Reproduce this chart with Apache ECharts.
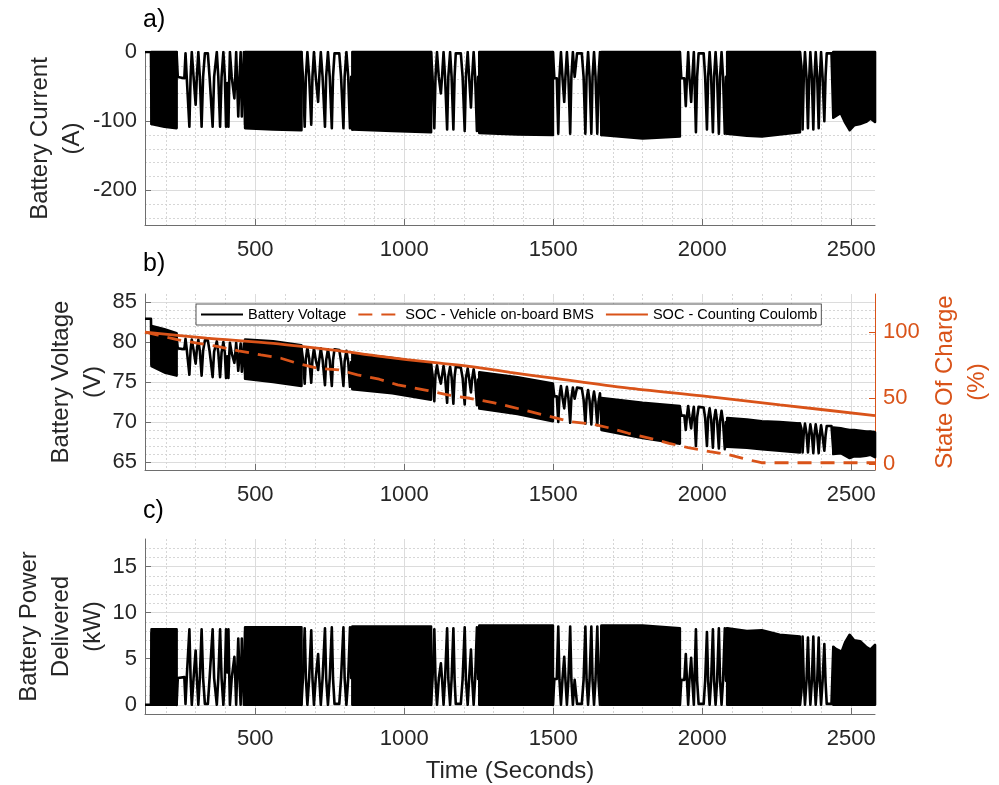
<!DOCTYPE html>
<html><head><meta charset="utf-8">
<script src="https://cdn.jsdelivr.net/npm/echarts@6/dist/echarts.min.js"></script>
<style>html,body{margin:0;padding:0;background:#fff}#c{width:999px;height:785px}</style>
</head><body><div id="c"></div>
<script>
// ---------- axis ranges ----------
const timeRange = [130, 2580];
const currentRange = [-250, 0];
const voltageRange = [64, 86];
const socRange = [-4.3, 128.9];
const powerRange = [-1, 18];

// ---------- sparse (visible oscillation) parts of the signals ----------
const lineTime = [
  130,150,152,
  236,240,262,266,270,279,283,287,293,300,304,309,314,320,325,331,341,347,357,362,371,376,382,387,393,398,402,406,410,413,415,421,430,433,436,443,448,451,455,459,462,466,
  655,660,666,670,675,681,688,692,697,703,711,715,720,726,734,738,744,750,757,761,766,782,788,796,800,806,812,818,822,826,
  1090,1095,1101,1105,1110,1116,1123,1127,1132,1137,1144,1148,1154,1159,1165,1169,1173,1190,1196,1203,1207,1213,1218,1224,1228,1233,1238,1244,1248,1252,
  1499,1504,1512,1517,1521,1526,1531,1537,1541,1546,1551,1557,1561,1566,1572,1580,1596,1602,1608,1612,1617,1622,1628,1632,1637,1642,1648,1652,1657,1662,
  1925,1930,1940,1945,1949,1953,1957,1963,1967,1972,1979,1983,1988,2005,2010,2016,2020,2025,2030,2036,2040,2045,2050,2056,2060,2065,2070,2076,2080,2084,
  2328,2333,2337,2341,2345,2350,2355,2359,2363,2368,2373,2377,2381,2386,2391,2395,2399,2404,2410,2414,2418,2434,2440,
  2580
];
const currentVals = [
  0,0,-104,
  0,-36,-38,-2,-36,-108,-36,0,-36,-76,-36,0,-36,-108,-36,-2,-2,-38,-108,-36,0,-36,-108,-36,0,-36,-108,-45,-108,-36,0,-36,-67,-36,0,-93,-30,0,-93,-36,0,-105,
  0,-36,-108,-36,0,-36,-105,-36,0,-36,-72,-36,0,-36,-108,-36,0,-36,-110,-36,-2,-2,-36,-110,-36,0,-36,-110,-36,-112,
  0,-36,-110,-36,0,-36,-60,-36,0,-36,-112,-36,0,-36,-112,-36,-2,-2,-36,-114,-36,0,-38,-80,-36,0,-36,-114,-36,-115,
  0,-38,-38,-118,-36,0,-36,-72,-36,0,-36,-118,-36,0,-36,-2,-2,-36,-118,-36,0,-36,-118,-36,0,-36,-118,-36,0,-120,
  0,-38,-38,-78,-36,0,-36,-72,-36,0,-116,-36,-2,-2,-36,-112,-36,0,-36,-116,-36,0,-36,-118,-36,0,-36,-118,-36,-118,
  0,-20,-112,-36,0,-36,-110,-40,0,-36,-112,-36,0,-36,-110,-36,0,-36,-100,-36,-2,-2,-93,
  -60
];
const voltageVals = [
  82.9,82.9,77.2,
  80.6,79.2,79.1,80.4,79.1,75.9,79.0,80.3,79.0,77.3,79.0,80.3,78.9,75.8,78.9,80.2,80.2,78.8,75.6,78.8,80.1,78.7,75.6,78.7,80.0,78.6,75.5,78.2,75.5,78.6,79.9,78.6,77.4,78.5,79.9,76.4,78.7,79.8,76.3,78.4,79.8,76.0,
  79.3,77.9,74.8,77.9,79.3,77.9,74.9,77.8,79.2,77.8,76.5,77.8,79.2,77.8,74.6,77.7,79.1,77.7,74.5,77.7,79.1,79.0,77.6,74.5,77.6,78.9,77.5,74.4,77.5,74.3,
  77.2,75.9,72.6,75.9,77.1,75.8,74.8,75.8,77.0,75.7,72.4,75.7,76.9,75.6,72.3,75.6,76.9,76.8,75.5,72.2,75.5,76.7,75.4,73.7,75.4,76.6,75.3,72.1,75.3,72.0,
  74.6,73.2,73.2,70.0,73.2,74.5,73.1,71.7,73.1,74.4,73.0,69.9,73.0,74.3,72.9,74.3,74.2,72.8,69.8,72.8,74.0,72.7,69.7,72.6,73.8,72.5,69.6,72.5,73.6,69.5,
  71.9,70.8,70.8,69.0,70.8,72.0,70.7,69.2,70.7,71.9,67.0,70.6,71.9,71.8,70.5,67.0,70.5,71.7,70.3,66.8,70.3,71.5,70.1,66.7,70.1,71.4,70.0,66.6,70.0,66.9,
  69.8,69.2,66.2,68.6,69.8,68.6,66.2,68.4,69.7,68.5,66.1,68.5,69.7,68.4,66.1,68.4,69.6,68.3,66.4,68.3,69.5,69.5,66.5,
  67.5
];
const powerVals = [
  0,0,7.8,
  0,2.9,3.0,0.1,2.9,8.2,2.9,0,2.9,5.9,2.9,0,2.9,8.2,2.9,0.1,0.1,3.0,8.2,2.9,0,2.9,8.2,2.9,0,2.9,8.2,3.5,8.2,2.9,0,2.9,5.2,2.9,0,7.2,2.3,0,7.2,2.8,0,8.0,
  0,2.9,8.3,2.9,0,2.9,8.1,2.9,0,2.9,5.5,2.9,0,2.9,8.3,2.9,0,2.9,8.4,2.9,0.1,0.1,2.9,8.4,2.9,0,2.9,8.4,2.9,8.4,
  0,2.8,8.2,2.8,0,2.8,4.5,2.8,0,2.8,8.3,2.8,0,2.8,8.3,2.8,0.1,0.1,2.8,8.4,2.8,0,2.9,6.0,2.8,0,2.8,8.4,2.8,8.4,
  0,2.8,2.8,8.5,2.7,0,2.7,5.2,2.7,0,2.7,8.5,2.7,0,2.7,0.1,0.1,2.7,8.5,2.7,0,2.7,8.5,2.7,0,2.7,8.5,2.7,0,8.5,
  0,2.7,2.7,5.5,2.6,0,2.6,5.1,2.6,0,8.2,2.6,0.1,0.1,2.6,7.9,2.6,0,2.6,8.2,2.6,0,2.6,8.3,2.6,0,2.6,8.3,2.6,8.3,
  0,1.4,7.4,2.5,0,2.5,7.3,2.8,0,2.5,7.4,2.5,0,2.5,7.3,2.5,0,2.5,6.6,2.5,0.1,0.1,6.2,
  4.0
];

// ---------- dense blocks (envelopes of the fast switching parts) ----------
const bandTime = [
  [152,195,236],
  [466,560,655],
  [826,960,1090],
  [1252,1380,1499],
  [1662,1800,1925],
  [2084,2150,2200,2260,2328],
  [2440,2465,2480,2495,2510,2530,2550,2565,2580]
];
const currentLow = [
  [-104,-108,-110],
  [-110,-112,-113],
  [-112,-114,-116],
  [-117,-119,-120],
  [-120,-125,-122],
  [-118,-121,-122,-119,-116],
  [-95,-88,-102,-113,-106,-104,-101,-96,-101]
];
const voltageHigh = [
  [82.0,81.6,81.1],
  [80.3,80.1,79.6],
  [78.6,78.0,77.3],
  [76.2,75.6,74.8],
  [73.0,72.4,72.0],
  [70.5,70.3,70.1,70.0,69.8],
  [69.3,69.2,69.1,69.0,69.0,68.9,68.8,68.8,68.7]
];
const voltageLow = [
  [77.0,76.2,75.8],
  [75.4,75.0,74.5],
  [74.1,73.6,72.8],
  [71.7,71.0,70.1],
  [69.0,68.0,67.3],
  [66.9,66.8,66.6,66.4,66.2],
  [66.0,66.1,65.8,65.5,65.7,65.7,65.8,65.9,65.6]
];
const powerHigh = [
  [8.2,8.2,8.2],
  [8.4,8.4,8.4],
  [8.5,8.5,8.5],
  [8.6,8.6,8.6],
  [8.6,8.6,8.3],
  [8.3,8.0,8.1,7.6,7.4],
  [6.3,5.5,6.8,7.6,7.0,6.9,6.3,6.0,6.5]
];

// ---------- state of charge ----------
const bmsTime = [130,170,242,305,376,444,519,586,648,709,781,843,916,978,1080,1146,1220,1298,1355,1491,1556,1629,1693,1752,1825,1889,1953,2026,2091,2149,2199,2580];
const bmsSoc  = [100,98,94.2,91.7,89.1,85.9,82.8,80.3,76,72.7,71.5,67.7,64.4,60.1,55.8,52.5,50,46.7,43.7,36.1,32.3,30.6,27.3,23.5,19.7,15.9,12.6,9.6,7.1,3.8,1.2,1.2];
const ccTime = [130,337,561,784,900,1008,1120,1232,1355,1500,1746,2000,2261,2580];
const ccSoc  = [100,95.5,91.5,85.8,82.3,79.3,76.6,73.8,69.6,65.2,57.8,51.8,45.0,36.9];

const seriesNames = ['Battery Voltage', 'SOC - Vehicle on-board BMS', 'SOC - Counting Coulomb'];
const panelLabels = ['a)', 'b)', 'c)'];

// ---------- build ----------
const FONT = "'Liberation Sans', Arial, Helvetica, sans-serif";
const ORANGE = '#D95319';
const TXT = '#262626';
const AXC = '#6e6e6e';
const LW = 2.6;
const n = Math.min(lineTime.length, currentVals.length, voltageVals.length, powerVals.length);
const pair = (ts, vs) => ts.slice(0, n).map((t, i) => [t, vs[i]]);
const zeroLevel = bandTime.map(ts => ts.map(() => 0));
const plain = v => String(v);

function bandRender(hiArr, loArr) {
  return function (params, api) {
    const i = params.dataIndex;
    const ts = bandTime[i];
    const pts = [];
    for (let k = 0; k < ts.length; k++) pts.push(api.coord([ts[k], hiArr[i][k]]));
    for (let k = ts.length - 1; k >= 0; k--) pts.push(api.coord([ts[k], loArr[i][k]]));
    return { type: 'polygon', shape: { points: pts },
      style: { fill: '#000', stroke: '#000', lineWidth: LW, lineJoin: 'round' } };
  };
}

const grids = [
  { left: 145, width: 730, top: 52, height: 173, outerBoundsMode: 'none' },
  { left: 145, width: 730, top: 294, height: 176, outerBoundsMode: 'none' },
  { left: 145, width: 730, top: 539, height: 175, outerBoundsMode: 'none' }
];

function xAxis(gi, withName) {
  const ax = {
    type: 'value', gridIndex: gi, min: timeRange[0], max: timeRange[1], splitNumber: 5,
    axisLine: { show: true, onZero: false, lineStyle: { color: AXC, width: 1 } },
    axisTick: { show: true, inside: true, length: 6, lineStyle: { color: AXC } },
    axisLabel: { show: true, showMinLabel: false, showMaxLabel: false, margin: 14, formatter: plain,
      color: TXT, fontSize: 22, fontFamily: FONT },
    splitLine: { show: true, showMinLine: false, showMaxLine: false, lineStyle: { color: '#dcdcdc', width: 1 } },
    minorTick: { show: false, splitNumber: 5 },
    minorSplitLine: { show: true, lineStyle: { color: '#d6d6d6', width: 1, type: [2, 2] } }
  };
  if (withName) {
    ax.name = 'Time (Seconds)';
    ax.nameLocation = 'middle';
    ax.nameGap = 45;
    ax.nameMoveOverlap = false;
    ax.nameTextStyle = { fontSize: 24, color: TXT, fontFamily: FONT };
  }
  return ax;
}

function yAxis(gi, range, splitNumber, name, gap, showMax) {
  return {
    type: 'value', gridIndex: gi, min: range[0], max: range[1], splitNumber: splitNumber,
    name: name, nameLocation: 'middle', nameRotate: 90, nameGap: gap, nameMoveOverlap: false,
    nameTextStyle: { fontSize: 24, lineHeight: 32, color: TXT, fontFamily: FONT, align: 'center' },
    axisLine: { show: true, onZero: false, lineStyle: { color: AXC, width: 1 } },
    axisTick: { show: true, inside: true, length: 6, lineStyle: { color: AXC } },
    axisLabel: { show: true, showMinLabel: false, showMaxLabel: showMax, formatter: plain,
      margin: 8, color: TXT, fontSize: 22, fontFamily: FONT },
    splitLine: { show: true, showMinLine: false, showMaxLine: false, lineStyle: { color: '#dcdcdc', width: 1 } },
    minorTick: { show: false, splitNumber: 5 },
    minorSplitLine: { show: true, lineStyle: { color: '#d6d6d6', width: 1, type: [2, 2] } }
  };
}

const yA = yAxis(0, currentRange, 3, 'Battery Current\n(A)', 57, true);
const yB = yAxis(1, voltageRange, 5, 'Battery Voltage\n(V)', 36, false);
const yC = yAxis(2, powerRange, 4, 'Battery Power\nDelivered\n(kW)', 36, false);
const yR = {
  type: 'value', gridIndex: 1, position: 'right', min: socRange[0], max: socRange[1], splitNumber: 3,
  name: 'State Of Charge\n(%)', nameLocation: 'middle', nameRotate: 90, nameGap: 54, nameMoveOverlap: false,
  nameTextStyle: { fontSize: 24, lineHeight: 32, color: ORANGE, fontFamily: FONT, align: 'center' },
  axisLine: { show: true, onZero: false, lineStyle: { color: ORANGE, width: 1 } },
  axisTick: { show: true, inside: true, length: 6, lineStyle: { color: ORANGE } },
  axisLabel: { show: true, showMinLabel: false, showMaxLabel: false, formatter: plain, margin: 8, color: ORANGE, fontSize: 22, fontFamily: FONT },
  splitLine: { show: false }
};

const blackLine = (name, xi, yi, data) => ({
  name: name, type: 'line', xAxisIndex: xi, yAxisIndex: yi, data: data,
  symbol: 'none', z: 2, silent: true,
  lineStyle: { color: '#000', width: LW, join: 'round' }, itemStyle: { color: '#000' }
});
const band = (xi, yi, hi, lo) => ({
  type: 'custom', xAxisIndex: xi, yAxisIndex: yi, z: 3, silent: true,
  data: bandTime.map((ts, i) => [ts[0], lo[i][0]]),
  encode: { x: 0, y: 1 },
  renderItem: bandRender(hi, lo)
});
const labelStyle = { fontSize: 25, fontWeight: 'normal', color: '#000', fontFamily: FONT };

const option = {
  animation: false,
  backgroundColor: '#fff',
  textStyle: { fontFamily: FONT },
  title: [
    { text: panelLabels[0], left: 143, top: 8, padding: 0, textStyle: labelStyle },
    { text: panelLabels[1], left: 143, top: 252, padding: 0, textStyle: labelStyle },
    { text: panelLabels[2], left: 143, top: 499, padding: 0, textStyle: labelStyle }
  ],
  legend: {
    data: seriesNames, left: 196, top: 304, orient: 'horizontal',
    itemWidth: 42, itemHeight: 14, itemGap: 11, padding: [3, 4, 3, 4],
    backgroundColor: '#fff', borderColor: '#555', borderWidth: 1, borderRadius: 0,
    selectedMode: false,
    itemStyle: { color: 'rgba(0,0,0,0)', borderWidth: 0, opacity: 0 },
    textStyle: { fontSize: 14.5, color: '#000', fontFamily: FONT }
  },
  grid: grids,
  xAxis: [xAxis(0, false), xAxis(1, false), xAxis(2, true)],
  yAxis: [yA, yB, yR, yC],
  series: [
    blackLine('current', 0, 0, pair(lineTime, currentVals)),
    band(0, 0, zeroLevel, currentLow),
    blackLine(seriesNames[0], 1, 1, pair(lineTime, voltageVals)),
    band(1, 1, voltageHigh, voltageLow),
    {
      name: seriesNames[1], type: 'line', xAxisIndex: 1, yAxisIndex: 2, z: 5, silent: true,
      data: bmsTime.map((t, i) => [t, bmsSoc[i]]), symbol: 'none',
      lineStyle: { color: ORANGE, width: 2.8, type: [14, 9] }, itemStyle: { color: ORANGE }
    },
    {
      name: seriesNames[2], type: 'line', xAxisIndex: 1, yAxisIndex: 2, z: 5, silent: true,
      data: ccTime.map((t, i) => [t, ccSoc[i]]), symbol: 'none', smooth: 0.3,
      lineStyle: { color: ORANGE, width: 2.8 }, itemStyle: { color: ORANGE }
    },
    blackLine('power', 2, 3, pair(lineTime, powerVals)),
    band(2, 3, powerHigh, zeroLevel)
  ]
};

const chart = echarts.init(document.getElementById('c'), null, { renderer: 'canvas', width: 999, height: 785 });
chart.setOption(option);
</script>
</body></html>
